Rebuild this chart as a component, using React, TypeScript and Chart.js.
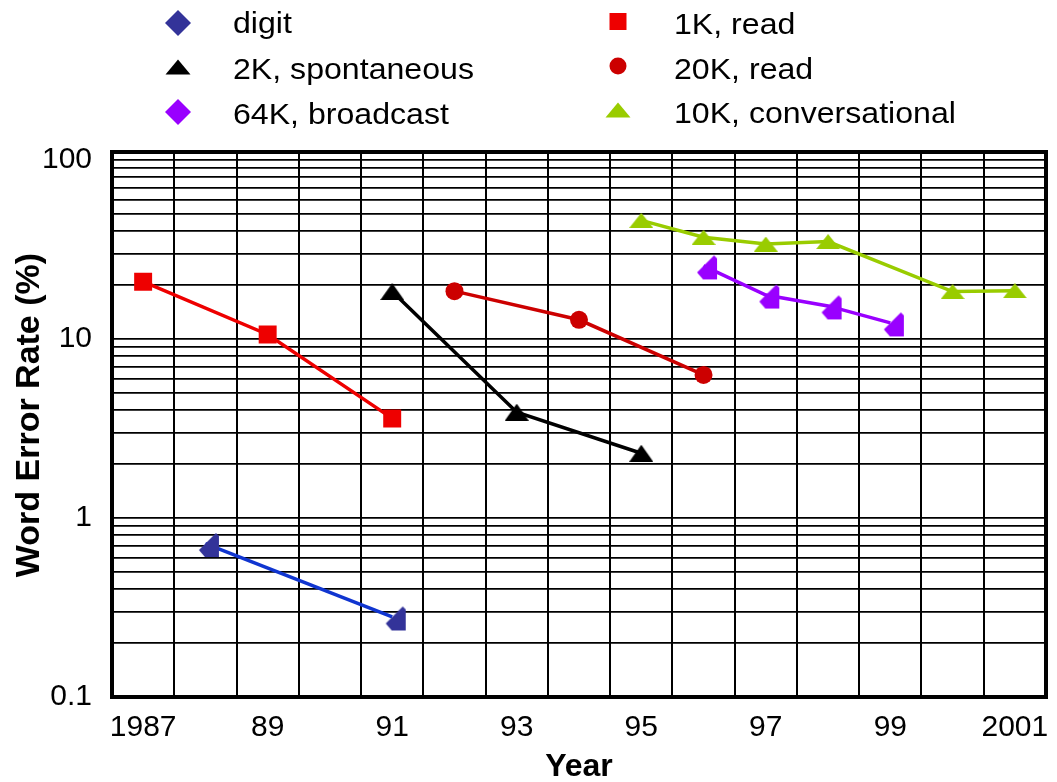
import React, { useEffect, useRef } from 'react';
import { Chart, registerables } from 'chart.js';

Chart.register(...registerables);

// ---------- data ----------
const years = ['1987', '1988', '1989', '1990', '1991', '1992', '1993', '1994', '1995', '1996', '1997', '1998', '1999', '2000', '2001'];
const xTickLabels = ['1987', '', '89', '', '91', '', '93', '', '95', '', '97', '', '99', '', '2001'];
const yTickValues = [0.1, 0.2, 0.3, 0.4, 0.5, 0.6, 0.7, 0.8, 0.9, 1, 2, 3, 4, 5, 6, 7, 8, 9, 10, 20, 30, 40, 50, 60, 70, 80, 90, 100];
const yLabeledTicks = [0.1, 1, 10, 100];

const digitYears = ['1988', '1991'];
const digitValues = [0.72, 0.28];
const read1kYears = ['1987', '1989', '1991'];
const read1kValues = [20.9, 10.6, 3.6];
const spont2kYears = ['1991', '1993', '1995'];
const spont2kValues = [18.4, 3.9, 2.3];
const read20kYears = ['1992', '1994', '1996'];
const read20kValues = [18.5, 12.8, 6.3];
const broadcast64kYears = ['1996', '1997', '1998', '1999'];
const broadcast64kValues = [25.6, 17.6, 15.3, 12.3];
const conv10kYears = ['1995', '1996', '1997', '1998', '2000', '2001'];
const conv10kValues = [46, 37, 33.9, 35, 18.4, 18.6];

const seriesNames = ['digit', '1K, read', '2K, spontaneous', '20K, read', '64K, broadcast', '10K, conversational'];

// ---------- marker images ----------
function makeTriangle(color: string, w: number, h: number) {
  const c = document.createElement('canvas');
  c.width = w;
  c.height = h;
  const ctx = c.getContext('2d')!;
  ctx.fillStyle = color;
  ctx.beginPath();
  ctx.moveTo(w / 2, 0);
  ctx.lineTo(w, h);
  ctx.lineTo(0, h);
  ctx.closePath();
  ctx.fill();
  return c;
}

// clipped diamond, drawn slightly right/down of the point as in the original
function makeClipDiamond(color: string) {
  const c = document.createElement('canvas');
  c.width = 29;
  c.height = 29;
  const ctx = c.getContext('2d')!;
  ctx.fillStyle = color;
  ctx.translate(8, 4);
  ctx.beginPath();
  ctx.moveTo(0, 17);
  ctx.lineTo(17, 0);
  ctx.lineTo(20, 3);
  ctx.lineTo(20, 24);
  ctx.lineTo(6, 24);
  ctx.closePath();
  ctx.fill();
  return c;
}

const FONT = '"Liberation Sans", Arial, Helvetica, sans-serif';

const toPoints = (xs: string[], ys: number[]) => xs.map((x, i) => ({ x, y: ys[i] }));

// legend drawn as a plugin
const legendLayout = [
  { col: 0, row: 0, marker: 'diamond', color: '#333399' },
  { col: 1, row: 0, marker: 'square', color: '#ee0000' },
  { col: 0, row: 1, marker: 'triangle', color: '#000000' },
  { col: 1, row: 1, marker: 'circle', color: '#cc0000' },
  { col: 0, row: 2, marker: 'diamond', color: '#9900ff' },
  { col: 1, row: 2, marker: 'triangle', color: '#99cc00' },
];
const legendMarkerX = [178, 618];
const legendTextX = [233, 674];
const legendMarkerY = [[23, 67, 112], [21.5, 66, 110]];
const legendBaseline = [[33, 79, 124], [34, 79, 123]];

const legendPlugin = {
  id: 'customLegend',
  afterDraw(chart: any) {
    const ctx = chart.ctx as CanvasRenderingContext2D;
    ctx.save();
    legendLayout.forEach((item, i) => {
      const mx = legendMarkerX[item.col];
      const my = legendMarkerY[item.col][item.row];
      ctx.fillStyle = item.color;
      ctx.beginPath();
      if (item.marker === 'diamond') {
        const r = 13;
        ctx.moveTo(mx - r, my);
        ctx.lineTo(mx, my - r);
        ctx.lineTo(mx + r, my);
        ctx.lineTo(mx, my + r);
        ctx.closePath();
      } else if (item.marker === 'square') {
        ctx.rect(mx - 8.5, my - 8.5, 17, 17);
      } else if (item.marker === 'circle') {
        ctx.arc(mx, my, 8.5, 0, Math.PI * 2);
      } else {
        ctx.moveTo(mx, my - 7.5);
        ctx.lineTo(mx + 12.5, my + 7.5);
        ctx.lineTo(mx - 12.5, my + 7.5);
        ctx.closePath();
      }
      ctx.fill();
      const tx = legendTextX[item.col];
      const ty = legendBaseline[item.col][item.row];
      ctx.save();
      ctx.translate(tx, ty);
      ctx.scale(1.07, 1);
      ctx.fillStyle = '#000';
      ctx.font = `30px ${FONT}`;
      ctx.textAlign = 'left';
      ctx.textBaseline = 'alphabetic';
      ctx.fillText(chart.data.datasets[i].label, 0, 0);
      ctx.restore();
    });
    ctx.restore();
  },
};

const framePlugin = {
  id: 'frame',
  beforeDatasetsDraw(chart: any) {
    const { ctx, chartArea } = chart;
    ctx.save();
    ctx.strokeStyle = '#000';
    ctx.lineWidth = 4;
    ctx.strokeRect(chartArea.left, chartArea.top, chartArea.right - chartArea.left, chartArea.bottom - chartArea.top);
    ctx.restore();
  },
};

export default function App() {
  const ref = useRef<HTMLCanvasElement>(null);

  useEffect(() => {
    if (!ref.current) return;
    const triBlack = makeTriangle('#000000', 24, 17);
    const triGreen = makeTriangle('#99cc00', 24, 15);
    const diaBlue = makeClipDiamond('#333399');
    const diaPurple = makeClipDiamond('#9900ff');

    const chart = new Chart(ref.current, {
      type: 'line',
      data: {
        labels: years,
        datasets: [
          {
            label: seriesNames[0],
            data: toPoints(digitYears, digitValues),
            borderColor: '#1035d0',
            backgroundColor: '#333399',
            borderWidth: 3.5,
            pointStyle: diaBlue as any,
            pointRadius: 11,
          },
          {
            label: seriesNames[1],
            data: toPoints(read1kYears, read1kValues),
            borderColor: '#ee0000',
            backgroundColor: '#ee0000',
            borderWidth: 3.5,
            pointStyle: 'rect',
            pointRadius: 12.7,
            pointBorderWidth: 0,
          },
          {
            label: seriesNames[2],
            data: toPoints(spont2kYears, spont2kValues),
            borderColor: '#000000',
            backgroundColor: '#000000',
            borderWidth: 3.5,
            pointStyle: triBlack as any,
            pointRadius: 12,
          },
          {
            label: seriesNames[3],
            data: toPoints(read20kYears, read20kValues),
            borderColor: '#cc0000',
            backgroundColor: '#cc0000',
            borderWidth: 3.5,
            pointStyle: 'circle',
            pointRadius: 9,
            pointBorderWidth: 0,
          },
          {
            label: seriesNames[4],
            data: toPoints(broadcast64kYears, broadcast64kValues),
            borderColor: '#9900ff',
            backgroundColor: '#9900ff',
            borderWidth: 3.5,
            pointStyle: diaPurple as any,
            pointRadius: 11,
          },
          {
            label: seriesNames[5],
            data: toPoints(conv10kYears, conv10kValues),
            borderColor: '#99cc00',
            backgroundColor: '#99cc00',
            borderWidth: 3.5,
            pointStyle: triGreen as any,
            pointRadius: 12,
          },
        ],
      },
      options: {
        animation: false,
        responsive: false,
        maintainAspectRatio: false,
        layout: { autoPadding: false, padding: { top: 152, right: 11, left: 0, bottom: 0 } },
        plugins: {
          legend: { display: false },
          tooltip: { enabled: false },
        },
        scales: {
          x: {
            type: 'category',
            offset: true,
            grid: { offset: true, color: '#000', lineWidth: 2, drawTicks: false },
            border: { display: false },
            ticks: {
              autoSkip: false,
              maxRotation: 0,
              padding: 1,
              color: '#000',
              font: { family: FONT, size: 30, lineHeight: 2 },
              callback: (_v: any, i: number) => xTickLabels[i],
            },
            title: {
              display: true,
              text: 'Year',
              color: '#000',
              font: { family: FONT, size: 32, weight: 'bold' },
              padding: { top: 0, bottom: -4 },
            },
            afterFit: (scale: any) => {
              scale.height = 85;
            },
          },
          y: {
            type: 'logarithmic',
            min: 0.1,
            max: 110.8,
            grid: { color: '#000', lineWidth: 1.8, drawTicks: false },
            border: { display: false },
            afterBuildTicks: (scale: any) => {
              scale.ticks = yTickValues.map((v) => ({ value: v }));
            },
            ticks: {
              autoSkip: false,
              padding: 20,
              color: '#000',
              font: { family: FONT, size: 30 },
              callback: (v: any) => (yLabeledTicks.includes(Number(v)) ? String(v) : ''),
            },
            title: {
              display: true,
              text: '  Word Error Rate (%)',
              color: '#000',
              font: { family: FONT, size: 34, weight: 'bold' },
              padding: { top: 9, bottom: 0 },
            },
            afterFit: (scale: any) => {
              scale.width = 112;
            },
          },
        },
      } as any,
      plugins: [framePlugin, legendPlugin],
    });
    return () => chart.destroy();
  }, []);

  return (
    <div style={{ position: 'fixed', left: 0, top: 0, width: 1057, height: 782, background: '#fff' }}>
      <canvas ref={ref} width={1057} height={782} />
    </div>
  );
}
